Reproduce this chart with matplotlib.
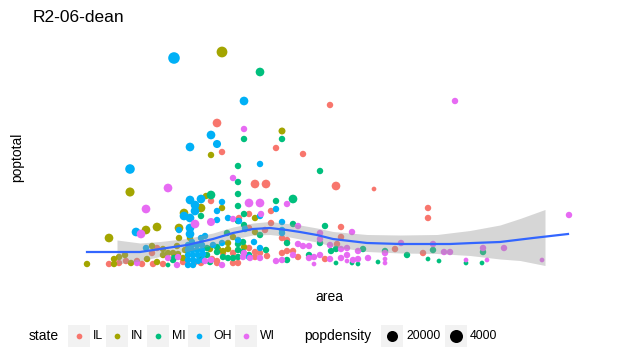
# midwest_scatter.py
# Scatter of county area vs total population, sized by density, with a loess band.

import numpy as np
import matplotlib
matplotlib.use("Agg")
import matplotlib.pyplot as plt
from matplotlib.patches import Rectangle

plt.rcParams['font.family'] = ['Liberation Sans', 'DejaVu Sans']

# (area x1e-3, poptotal x1e3, popdensity)
IL = [(27.4, 147, 5600), (39.2, 122, 2800), (28.4, 118, 2800), (44.6, 116, 2800),
      (50.0, 165, 2800), (51.2, 84, 5600), (58.8, 81, 1200), (69.6, 62, 2800),
      (69.6, 52, 2800), (35.0, 86, 5600), (37.2, 86, 5600), (26.2, 69, 2800),
      (38.2, 59, 2800), (33.8, 56, 2800), (31.8, 52, 2800), (38.2, 47, 2800),
      (33.8, 42, 2800), (37.0, 40, 2800), (40.4, 32, 2800), (52.2, 43, 2800),
      (52.2, 33, 2800), (51.4, 26, 2800), (41.4, 30, 2800), (5.8, 6, 2800),
      (7.8, 7, 2800), (9.2, 9, 2800), (11.4, 9, 2800), (12.4, 6, 2800),
      (14.4, 17, 2800), (14.6, 6, 2800), (15.4, 22, 2800), (16.6, 6, 2800),
      (20.6, 8, 2800), (23.0, 8, 2800), (24.2, 7, 2800), (26.4, 11, 2800),
      (27.4, 7, 2800), (28.6, 17, 2800), (30.6, 17, 2800), (30.6, 7, 2800),
      (31.6, 7, 2800), (33.8, 22, 2800), (35.0, 18, 2800), (35.0, 13, 2800),
      (36.0, 17, 2800), (37.4, 14, 2800), (40.4, 17, 2800), (41.4, 19, 2800),
      (42.6, 19, 2800), (43.6, 13, 2800), (49.0, 11, 2800), (63.0, 21, 2800),
      (68.6, 17, 2800), (27.4, 9, 2800)]

IN = [(28.4, 218, 9000), (40.4, 139, 3400), (26.2, 115, 2800), (10.0, 78, 6200),
      (13.2, 40, 5600), (15.4, 43, 5600), (5.8, 32, 5600), (19.8, 42, 5600),
      (20.8, 57, 5600), (25.2, 74, 2800), (24.2, 62, 5600), (28.4, 62, 2800),
      (35.0, 52, 2800), (22.0, 32, 2800), (19.8, 32, 2800), (30.6, 33, 2800),
      (1.4, 6, 2800), (6.8, 11, 2800), (6.8, 6, 2800), (7.8, 13, 2800),
      (9.0, 15, 2800), (10.2, 7, 2800), (13.4, 11, 2800), (14.4, 24, 2800),
      (15.4, 8, 2800), (16.6, 21, 2800), (16.6, 15, 2800), (17.6, 17, 2800),
      (18.6, 17, 2800), (19.6, 16, 2800), (20.6, 12, 2800), (21.0, 20, 2800),
      (19.4, 24, 2800), (26.0, 21, 2800), (27.6, 21, 2800), (29.6, 21, 2800),
      (28.6, 19, 2800), (32.8, 23, 2800), (29.6, 27, 2800), (35.0, 38, 2800)]

MI = [(36.0, 198, 5600), (32.8, 131, 2800), (40.4, 131, 2800), (31.6, 104, 2800),
      (48.0, 99, 2800), (31.6, 88, 2800), (26.2, 75, 5600), (31.6, 76, 2800),
      (31.6, 64, 2800), (39.2, 69, 2800), (42.6, 71, 5600), (32.8, 56, 2800),
      (24.2, 54, 2800), (31.6, 49, 2800), (32.8, 45, 2800), (42.6, 46, 2800),
      (49.0, 44, 2800), (36.0, 35, 2800), (29.4, 37, 2800), (41.4, 27, 2800),
      (48.0, 27, 2800), (17.6, 5, 1200), (18.8, 12, 2800), (18.6, 10, 2800),
      (24.2, 12, 2800), (25.4, 15, 2800), (25.4, 22, 2800), (26.0, 8, 2800),
      (27.4, 23, 2800), (27.4, 18, 2800), (28.6, 13, 2800), (29.6, 12, 2800),
      (30.6, 12, 2800), (31.6, 26, 2800), (31.6, 20, 2800), (31.6, 13, 2800),
      (32.6, 28, 2800), (32.6, 18, 2800), (33.8, 15, 2800), (37.2, 20, 2800),
      (41.4, 10, 2800), (45.8, 15, 2800), (50.2, 19, 2800), (51.2, 21, 2800),
      (51.2, 7, 1200), (54.4, 7, 1200), (55.6, 6, 1200), (56.6, 21, 2800),
      (59.6, 8, 1200), (61.0, 19, 2800), (65.4, 15, 2800), (69.6, 11, 1200),
      (70.6, 20, 2800), (71.8, 9, 1200), (77.2, 7, 1200), (80.4, 7, 1200),
      (80.6, 18, 2800)]

OH = [(18.8, 212, 10500), (32.8, 169, 5600), (26.2, 135, 5600), (27.4, 126, 4800),
      (22.0, 123, 5600), (10.0, 101, 7000), (36.0, 106, 2800), (22.0, 70, 5600),
      (24.2, 71, 5600), (23.0, 65, 5600), (23.0, 59, 5600), (28.4, 68, 2800),
      (20.8, 54, 5600), (22.0, 52, 5600), (27.4, 59, 2800), (27.4, 50, 2800),
      (29.6, 52, 2800), (31.8, 49, 2800), (39.2, 61, 2800), (36.0, 54, 2800),
      (40.4, 48, 2800), (11.2, 38, 5600), (19.8, 40, 2800), (22.0, 42, 5600),
      (22.0, 36, 5600), (25.0, 34, 2800), (24.2, 32, 2800), (28.4, 27, 2800),
      (31.6, 30, 2800), (34.8, 28, 2800), (33.0, 41, 2800), (40.4, 40, 2800),
      (40.4, 37, 2800), (13.2, 22, 2800), (26.6, 25, 2800), (36.0, 22, 2800),
      (33.8, 13, 2800), (21.6, 25, 2800), (22.4, 25, 2800), (23.4, 25, 2800),
      (24.4, 25, 2800), (21.6, 20, 2800), (22.4, 20, 2800), (23.4, 20, 2800),
      (24.4, 20, 2800), (21.6, 15, 2800), (22.6, 15, 2800), (23.6, 15, 2800),
      (21.6, 10, 2800), (22.6, 10, 2800), (23.6, 9, 2800), (24.6, 16, 2800),
      (22.4, 28, 2800), (21.6, 5, 2800), (22.6, 5, 2800), (24.6, 10, 2800)]

WI = [(32.8, 141, 2800), (75.0, 169, 2800), (30.6, 92, 2800), (17.6, 82, 5600),
      (13.2, 61, 5600), (12.2, 36, 5600), (23.0, 46, 5600), (26.2, 48, 4800),
      (33.8, 67, 5600), (36.0, 67, 5600), (36.2, 56, 2800), (30.6, 51, 2800),
      (41.4, 66, 2800), (43.6, 44, 2800), (54.4, 38, 2800), (48.0, 37, 2800),
      (48.0, 31, 2800), (97.8, 55, 2800), (43.6, 26, 2800), (44.6, 24, 2800),
      (45.8, 24, 2800), (50.0, 25, 2800), (52.2, 21, 2800), (53.4, 22, 2800),
      (55.6, 19, 2800), (64.2, 27, 2800), (70.6, 26, 2800), (72.8, 18, 2800),
      (74.0, 18, 2800), (80.6, 22, 2800), (84.8, 22, 2800), (92.4, 10, 1200),
      (61.0, 17, 2800), (11.4, 7, 2800), (17.6, 12, 2800), (19.6, 13, 2800),
      (19.4, 5, 2800), (25.0, 9, 2800), (26.2, 10, 2800), (28.4, 5, 2800),
      (32.6, 13, 2800), (32.8, 17, 2800), (34.0, 12, 2800), (36.0, 12, 2800),
      (39.2, 9, 2800), (40.4, 10, 2800), (42.6, 15, 2800), (45.8, 12, 2800),
      (46.8, 13, 2800), (48.0, 15, 2800), (46.8, 6, 1200), (50.0, 11, 2800),
      (52.2, 12, 2800), (53.4, 15, 2800), (53.4, 9, 1200), (54.6, 10, 2800),
      (55.6, 11, 2800), (57.6, 12, 2800), (61.0, 11, 1200), (61.0, 7, 1200),
      (77.2, 10, 1200), (81.4, 10, 1200)]

states = ["IL", "IN", "MI", "OH", "WI"]
state_rows = [IL, IN, MI, OH, WI]
state_colors = ["#F8766D", "#A3A500", "#00BF7D", "#00B0F6", "#E76BF3"]

# loess fit and its confidence band
fit_area = [1.4, 12, 16, 21.4, 26.6, 30.6, 34.6, 38, 41.4, 44, 47.4, 50.6,
            57.4, 64, 74, 78.6, 84, 90.6, 97.6]
fit_pop = [18, 18, 21, 25, 31, 37, 41, 42, 40, 38, 35, 31, 27, 26, 26, 27, 28, 32, 36]
band_area = [7.4, 12, 16, 21.4, 26.6, 30.6, 34.6, 38, 41.4, 44, 47.4, 50.6,
             57.4, 64, 71.4, 78, 84, 88, 93]
band_lo = [6, 9, 13.5, 18.5, 25, 31, 35, 35.5, 33.5, 31, 28, 23.5, 18.5, 17,
           16.5, 14.5, 11, 9.5, 4.5]
band_hi = [30, 27, 28.5, 31.5, 37, 43, 47, 48.5, 46.5, 45, 42, 38.5, 35.5, 35,
           35.5, 39.5, 45, 51.5, 60.5]

size_labels = ["20000", "4000"]


def dens_to_size(d):
    return 4 + np.asarray(d) / 160.0


W, H = 636, 362
fig = plt.figure(figsize=(W / 100, H / 100), dpi=100)
ax = fig.add_axes([60 / W, 1 - 275 / H, 540 / W, 235 / H])

for rows, col in zip(state_rows, state_colors):
    arr = np.array(rows, dtype=float)
    ax.scatter(arr[:, 0], arr[:, 1], s=dens_to_size(arr[:, 2]), color=col,
               linewidths=0, zorder=2)

ax.fill_between(band_area, band_lo, band_hi, color="#999999", alpha=0.4,
                linewidth=0, zorder=3)
ax.plot(fit_area, fit_pop, color="#3366FF", lw=1.6, zorder=4)

ax.set_xlim(-4, 104)
ax.set_ylim(-5, 230)
ax.axis("off")

# titles
fig.text(33 / W, 1 - 22 / H, "R2-06-dean", fontsize=12.5, ha="left", va="baseline")
fig.text(17 / W, 1 - 157 / H, "poptotal", fontsize=10, rotation=90,
         ha="center", va="center")
fig.text(329 / W, 1 - 297 / H, "area", fontsize=10, ha="center", va="center")

# legend drawn in a pixel-space overlay
lax = fig.add_axes([0, 0, 1, 1])
lax.set_xlim(0, W)
lax.set_ylim(H, 0)
lax.axis("off")

ly = 336
lax.text(29, ly, "state", fontsize=10, ha="left", va="center")
key_x = [68, 106, 147, 188, 235]
for kx, lab, col in zip(key_x, states, state_colors):
    lax.add_patch(Rectangle((kx, ly - 11), 22, 22, fc="#F2F2F2", ec="none"))
    lax.scatter([kx + 11], [ly], s=17, color=col, linewidths=0)
    lax.text(kx + 25, ly, lab, fontsize=8.8, ha="left", va="center")

lax.text(304, ly, "popdensity", fontsize=10, ha="left", va="center")
for kx, lab, sz in zip([381, 445], size_labels, [63, 88]):
    lax.add_patch(Rectangle((kx, ly - 11), 22, 22, fc="#F2F2F2", ec="none"))
    lax.scatter([kx + 11], [ly], s=sz, color="black", linewidths=0)
    lax.text(kx + 25, ly, lab, fontsize=8.8, ha="left", va="center")

fig.savefig("out.png", dpi=100)
